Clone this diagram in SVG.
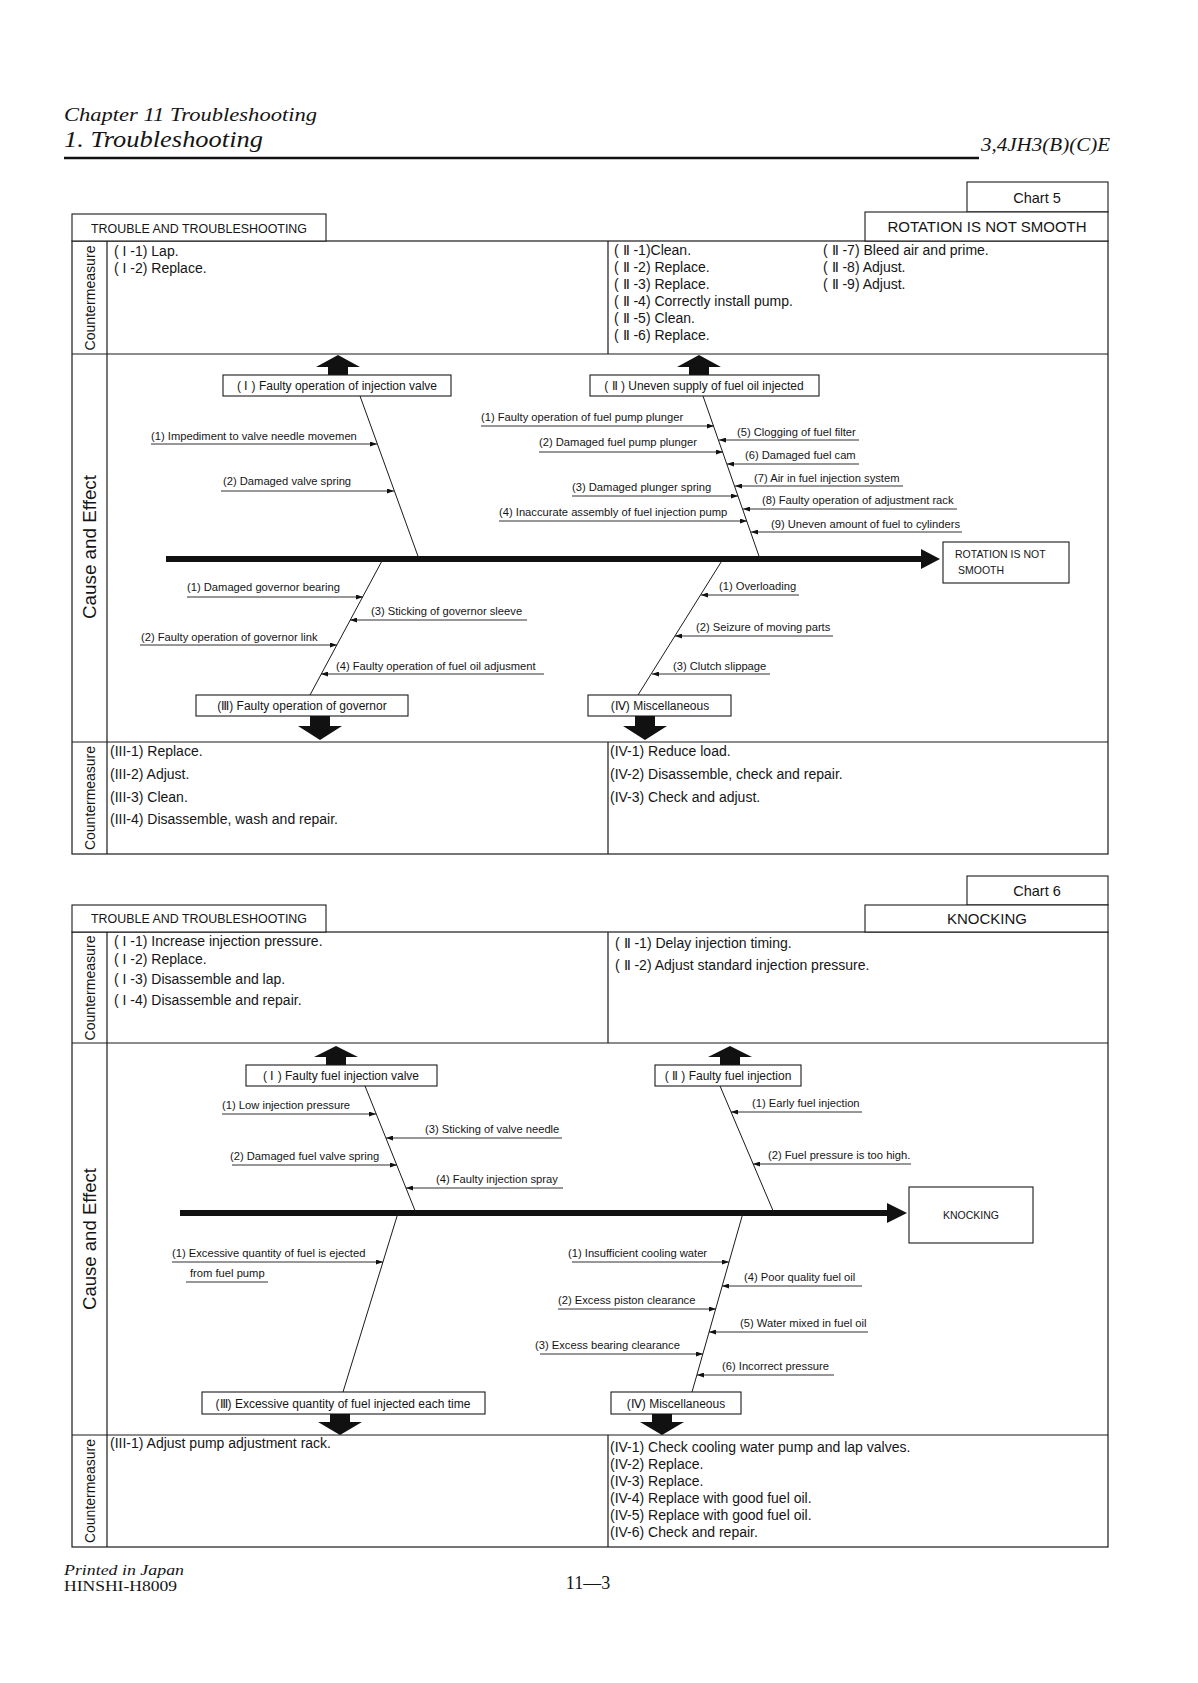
<svg xmlns="http://www.w3.org/2000/svg" width="1198" height="1683" viewBox="0 0 1198 1683">
<style>
text{font-family:"Liberation Sans",Arial,sans-serif;fill:#151515}
.serif{font-family:"Liberation Serif","Times New Roman",serif}
.fr{fill:none;stroke:#1a1a1a;stroke-width:1.2}
.bx{fill:#fff;stroke:#1a1a1a;stroke-width:1.1}
.cm{font-size:14px}
.lb{font-size:11.2px}
.bl{font-size:12px}
.hd{font-size:12.5px}
.vl{font-size:15px}
.ve{font-size:18px}
.bone{stroke:#1a1a1a;stroke-width:1;fill:none}
.sub{stroke:#1a1a1a;stroke-width:0.9;fill:none;marker-end:url(#ah)}
.ul{stroke:#1a1a1a;stroke-width:0.9;fill:none}
.spine{stroke:#111;stroke-width:6;fill:none}
.fat{fill:#111}
.m{text-anchor:middle}
</style>
<defs>
<marker id="ah" markerWidth="7" markerHeight="5" refX="7" refY="2.5" orient="auto" markerUnits="userSpaceOnUse"><path d="M0,0 L7,2.5 L0,5 Z" fill="#111"/></marker>
</defs>
<rect width="1198" height="1683" fill="#fff"/>

<g id="header">
<text class="serif" x="64" y="121" font-size="19" font-style="italic" textLength="253" lengthAdjust="spacingAndGlyphs">Chapter 11 Troubleshooting</text>
<text class="serif" x="64" y="147" font-size="23" font-style="italic" textLength="199" lengthAdjust="spacingAndGlyphs">1. Troubleshooting</text>
<line x1="64" y1="158" x2="979" y2="158" stroke="#111" stroke-width="2.5"/>
<text class="serif" x="981" y="151" font-size="18" font-style="italic" textLength="129" lengthAdjust="spacingAndGlyphs">3,4JH3(B)(C)E</text>
</g>

<!-- ================= CHART 5 ================= -->
<g id="c5-frame">
<rect class="fr" x="72" y="241" width="1036" height="613"/>
<line class="fr" x1="107" y1="241" x2="107" y2="854"/>
<line class="fr" x1="72" y1="354" x2="1108" y2="354"/>
<line class="fr" x1="72" y1="742" x2="1108" y2="742"/>
<line class="fr" x1="608" y1="241" x2="608" y2="354"/>
<line class="fr" x1="608" y1="742" x2="608" y2="854"/>
</g>
<g id="c5-chart">
<rect class="bx" x="967" y="182" width="141" height="30"/>
<text class="m" x="1037" y="203" font-size="14.5">Chart  5</text>
</g>
<g id="c5-title">
<rect class="bx" x="865" y="212" width="243" height="29"/>
<text class="m" x="987" y="232" font-size="15">ROTATION IS NOT SMOOTH</text>
</g>
<g id="c5-trouble">
<rect class="bx" x="72" y="214" width="254" height="27"/>
<text class="m hd" x="199" y="233" textLength="216" lengthAdjust="spacingAndGlyphs">TROUBLE AND TROUBLESHOOTING</text>
</g>
<g id="c5-labels">
<text class="m vl" transform="translate(90,298) rotate(-90)" y="5" textLength="105" lengthAdjust="spacingAndGlyphs">Countermeasure</text>
<text class="m ve" transform="translate(90,547) rotate(-90)" y="6" textLength="144" lengthAdjust="spacingAndGlyphs">Cause and Effect</text>
<text class="m vl" transform="translate(90,798) rotate(-90)" y="5" textLength="104" lengthAdjust="spacingAndGlyphs">Countermeasure</text>
</g>
<g id="c5-cm-top">
<text class="cm" x="114" y="256">( I -1) Lap.</text>
<text class="cm" x="114" y="273">( I -2) Replace.</text>
<text class="cm" x="614" y="255">( Ⅱ -1)Clean.</text>
<text class="cm" x="614" y="272">( Ⅱ -2) Replace.</text>
<text class="cm" x="614" y="289">( Ⅱ -3) Replace.</text>
<text class="cm" x="614" y="306">( Ⅱ -4) Correctly install pump.</text>
<text class="cm" x="614" y="323">( Ⅱ -5) Clean.</text>
<text class="cm" x="614" y="340">( Ⅱ -6) Replace.</text>
<text class="cm" x="823" y="255">( Ⅱ -7) Bleed air and prime.</text>
<text class="cm" x="823" y="272">( Ⅱ -8) Adjust.</text>
<text class="cm" x="823" y="289">( Ⅱ -9) Adjust.</text>
</g>
<g id="c5-cause1">
<path class="fat" d="M338,355 L360,367 L348,367 L348,375 L328,375 L328,367 L316,367 Z"/>
<rect class="bx" x="223" y="375" width="228" height="21"/>
<text class="m bl" x="337" y="390">( Ⅰ ) Faulty operation of injection valve</text>
</g>
<g id="c5-cause2">
<path class="fat" d="M699,355 L721,367 L709,367 L709,375 L689,375 L689,367 L677,367 Z"/>
<rect class="bx" x="590" y="375" width="229" height="21"/>
<text class="m bl" x="704" y="390">( Ⅱ ) Uneven supply of fuel oil injected</text>
</g>
<g id="c5-cause3">
<rect class="bx" x="196" y="695" width="212" height="21"/>
<text class="m bl" x="302" y="710">(Ⅲ) Faulty operation of governor</text>
<path class="fat" d="M310,716 L330,716 L330,726 L342,726 L320,740 L298,726 L310,726 Z"/>
</g>
<g id="c5-cause4">
<rect class="bx" x="588" y="695" width="143" height="21"/>
<text class="m bl" x="660" y="710">(Ⅳ) Miscellaneous</text>
<path class="fat" d="M635,716 L655,716 L655,726 L667,726 L645,740 L623,726 L635,726 Z"/>
</g>
<g id="c5-effect">
<rect class="bx" x="943" y="542" width="126" height="41"/>
<text x="955" y="558" font-size="10.5">ROTATION IS NOT</text>
<text x="958" y="574" font-size="10.5">SMOOTH</text>
</g>
<g id="c5-subcauses">
<text class="lb" x="151" y="440">(1) Impediment to valve needle movemen</text>
<text class="lb" x="223" y="485">(2) Damaged valve spring</text>
<text class="lb" x="481" y="421">(1) Faulty operation of fuel pump plunger</text>
<text class="lb" x="539" y="446">(2) Damaged fuel pump plunger</text>
<text class="lb" x="572" y="491">(3) Damaged plunger spring</text>
<text class="lb" x="499" y="516">(4) Inaccurate assembly of fuel injection pump</text>
<text class="lb" x="737" y="436">(5) Clogging of fuel filter</text>
<text class="lb" x="745" y="459">(6) Damaged fuel cam</text>
<text class="lb" x="754" y="482">(7) Air in fuel injection system</text>
<text class="lb" x="762" y="504">(8) Faulty operation of adjustment rack</text>
<text class="lb" x="771" y="528">(9) Uneven amount of fuel to cylinders</text>
<text class="lb" x="187" y="591">(1) Damaged governor bearing</text>
<text class="lb" x="371" y="615">(3) Sticking of governor sleeve</text>
<text class="lb" x="141" y="641">(2) Faulty operation of governor link</text>
<text class="lb" x="336" y="670">(4) Faulty operation of fuel oil adjusment</text>
<text class="lb" x="719" y="590">(1) Overloading</text>
<text class="lb" x="696" y="631">(2) Seizure of moving parts</text>
<text class="lb" x="673" y="670">(3) Clutch slippage</text>
</g>
<g id="c5-connectors">
<line class="spine" x1="166" y1="559" x2="923" y2="559"/>
<path class="fat" d="M921,549 L940,559 L921,569 Z"/>
<line class="bone" x1="360" y1="396" x2="419" y2="559"/>
<line class="bone" x1="703" y1="396" x2="760" y2="559"/>
<line class="bone" x1="383" y1="559" x2="310" y2="695"/>
<line class="bone" x1="723" y1="559" x2="638" y2="695"/>
<line class="sub" x1="151" y1="444" x2="377" y2="444"/>
<line class="sub" x1="221" y1="491" x2="394" y2="491"/>
<line class="sub" x1="481" y1="426" x2="714" y2="426"/>
<line class="sub" x1="539" y1="452" x2="723" y2="452"/>
<line class="sub" x1="572" y1="496" x2="738" y2="496"/>
<line class="sub" x1="499" y1="521" x2="747" y2="521"/>
<line class="sub" x1="859" y1="440" x2="719" y2="440"/>
<line class="sub" x1="859" y1="464" x2="727" y2="464"/>
<line class="sub" x1="903" y1="486" x2="735" y2="486"/>
<line class="sub" x1="957" y1="509" x2="743" y2="509"/>
<line class="sub" x1="962" y1="532" x2="751" y2="532"/>
<line class="sub" x1="187" y1="597" x2="363" y2="597"/>
<line class="sub" x1="527" y1="620" x2="350" y2="620"/>
<line class="sub" x1="140" y1="645" x2="337" y2="645"/>
<line class="sub" x1="544" y1="674" x2="321" y2="674"/>
<line class="sub" x1="799" y1="595" x2="701" y2="595"/>
<line class="sub" x1="833" y1="636" x2="675" y2="636"/>
<line class="sub" x1="770" y1="674" x2="652" y2="674"/>
</g>
<g id="c5-cm-bottom">
<text class="cm" x="110" y="756">(III-1) Replace.</text>
<text class="cm" x="110" y="779">(III-2) Adjust.</text>
<text class="cm" x="110" y="802">(III-3) Clean.</text>
<text class="cm" x="110" y="824">(III-4) Disassemble, wash and repair.</text>
<text class="cm" x="610" y="756">(IV-1) Reduce load.</text>
<text class="cm" x="610" y="779">(IV-2) Disassemble, check and repair.</text>
<text class="cm" x="610" y="802">(IV-3) Check and adjust.</text>
</g>

<!-- ================= CHART 6 ================= -->
<g id="c6-frame">
<rect class="fr" x="72" y="932" width="1036" height="615"/>
<line class="fr" x1="107" y1="932" x2="107" y2="1547"/>
<line class="fr" x1="72" y1="1043" x2="1108" y2="1043"/>
<line class="fr" x1="72" y1="1435" x2="1108" y2="1435"/>
<line class="fr" x1="608" y1="932" x2="608" y2="1043"/>
<line class="fr" x1="608" y1="1435" x2="608" y2="1547"/>
</g>
<g id="c6-chart">
<rect class="bx" x="967" y="876" width="141" height="29"/>
<text class="m" x="1037" y="896" font-size="14.5">Chart  6</text>
</g>
<g id="c6-title">
<rect class="bx" x="865" y="905" width="243" height="27"/>
<text class="m" x="987" y="924" font-size="15">KNOCKING</text>
</g>
<g id="c6-trouble">
<rect class="bx" x="72" y="905" width="254" height="27"/>
<text class="m hd" x="199" y="923" textLength="216" lengthAdjust="spacingAndGlyphs">TROUBLE AND TROUBLESHOOTING</text>
</g>
<g id="c6-labels">
<text class="m vl" transform="translate(90,988) rotate(-90)" y="5" textLength="105" lengthAdjust="spacingAndGlyphs">Countermeasure</text>
<text class="m ve" transform="translate(90,1239) rotate(-90)" y="6" textLength="142" lengthAdjust="spacingAndGlyphs">Cause and Effect</text>
<text class="m vl" transform="translate(90,1491) rotate(-90)" y="5" textLength="104" lengthAdjust="spacingAndGlyphs">Countermeasure</text>
</g>
<g id="c6-cm-top">
<text class="cm" x="114" y="946">( I -1) Increase injection pressure.</text>
<text class="cm" x="114" y="964">( I -2) Replace.</text>
<text class="cm" x="114" y="984">( I -3) Disassemble and lap.</text>
<text class="cm" x="114" y="1005">( I -4) Disassemble and repair.</text>
<text class="cm" x="615" y="948">( Ⅱ -1) Delay injection timing.</text>
<text class="cm" x="615" y="970">( Ⅱ -2) Adjust standard injection pressure.</text>
</g>
<g id="c6-cause1">
<path class="fat" d="M336,1046 L358,1057 L346,1057 L346,1065 L326,1065 L326,1057 L314,1057 Z"/>
<rect class="bx" x="246" y="1065" width="191" height="21"/>
<text class="m bl" x="341" y="1080">( Ⅰ ) Faulty fuel injection valve</text>
</g>
<g id="c6-cause2">
<path class="fat" d="M730,1046 L752,1057 L740,1057 L740,1065 L720,1065 L720,1057 L708,1057 Z"/>
<rect class="bx" x="655" y="1065" width="146" height="21"/>
<text class="m bl" x="728" y="1080">( Ⅱ ) Faulty fuel injection</text>
</g>
<g id="c6-cause3">
<rect class="bx" x="202" y="1392" width="283" height="22"/>
<text class="m bl" x="343" y="1408">(Ⅲ) Excessive quantity of fuel injected each time</text>
<path class="fat" d="M330,1414 L350,1414 L350,1422 L362,1422 L340,1435 L318,1422 L330,1422 Z"/>
</g>
<g id="c6-cause4">
<rect class="bx" x="611" y="1392" width="130" height="22"/>
<text class="m bl" x="676" y="1408">(Ⅳ) Miscellaneous</text>
<path class="fat" d="M652,1414 L672,1414 L672,1422 L684,1422 L662,1435 L640,1422 L652,1422 Z"/>
</g>
<g id="c6-effect">
<rect class="bx" x="909" y="1187" width="124" height="56"/>
<text class="m" x="971" y="1219" font-size="10.5">KNOCKING</text>
</g>
<g id="c6-subcauses">
<text class="lb" x="222" y="1109">(1) Low injection pressure</text>
<text class="lb" x="425" y="1133">(3) Sticking of valve needle</text>
<text class="lb" x="230" y="1160">(2) Damaged fuel valve spring</text>
<text class="lb" x="436" y="1183">(4) Faulty injection spray</text>
<text class="lb" x="752" y="1107">(1) Early fuel injection</text>
<text class="lb" x="768" y="1159">(2) Fuel pressure is too high.</text>
<text class="lb" x="172" y="1257">(1) Excessive quantity of fuel is ejected</text>
<text class="lb" x="190" y="1277">from fuel pump</text>
<text class="lb" x="568" y="1257">(1) Insufficient cooling water</text>
<text class="lb" x="744" y="1281">(4) Poor quality fuel oil</text>
<text class="lb" x="558" y="1304">(2) Excess piston clearance</text>
<text class="lb" x="740" y="1327">(5) Water mixed in fuel oil</text>
<text class="lb" x="535" y="1349">(3) Excess bearing clearance</text>
<text class="lb" x="722" y="1370">(6) Incorrect pressure</text>
</g>
<g id="c6-connectors">
<line class="spine" x1="180" y1="1213" x2="889" y2="1213"/>
<path class="fat" d="M887,1203 L907,1213 L887,1223 Z"/>
<line class="bone" x1="365" y1="1086" x2="416" y2="1213"/>
<line class="bone" x1="720" y1="1086" x2="774" y2="1213"/>
<line class="bone" x1="398" y1="1213" x2="343" y2="1392"/>
<line class="bone" x1="743" y1="1213" x2="692" y2="1392"/>
<line class="sub" x1="222" y1="1114" x2="376" y2="1114"/>
<line class="sub" x1="562" y1="1138" x2="386" y2="1138"/>
<line class="sub" x1="232" y1="1165" x2="397" y2="1165"/>
<line class="sub" x1="563" y1="1188" x2="406" y2="1188"/>
<line class="sub" x1="862" y1="1112" x2="731" y2="1112"/>
<line class="sub" x1="911" y1="1164" x2="753" y2="1164"/>
<line class="sub" x1="172" y1="1262" x2="383" y2="1262"/>
<line class="ul" x1="186" y1="1282" x2="268" y2="1282"/>
<line class="sub" x1="572" y1="1262" x2="729" y2="1262"/>
<line class="sub" x1="862" y1="1286" x2="722" y2="1286"/>
<line class="sub" x1="558" y1="1309" x2="716" y2="1309"/>
<line class="sub" x1="868" y1="1332" x2="709" y2="1332"/>
<line class="sub" x1="540" y1="1354" x2="703" y2="1354"/>
<line class="sub" x1="834" y1="1375" x2="697" y2="1375"/>
</g>
<g id="c6-cm-bottom">
<text class="cm" x="110" y="1448">(III-1)  Adjust pump adjustment rack.</text>
<text class="cm" x="610" y="1452">(IV-1) Check cooling water pump and lap valves.</text>
<text class="cm" x="610" y="1469">(IV-2) Replace.</text>
<text class="cm" x="610" y="1486">(IV-3) Replace.</text>
<text class="cm" x="610" y="1503">(IV-4) Replace with good fuel oil.</text>
<text class="cm" x="610" y="1520">(IV-5) Replace with good fuel oil.</text>
<text class="cm" x="610" y="1537">(IV-6) Check and repair.</text>
</g>

<g id="footer">
<text class="serif" x="64" y="1575" font-size="15" font-style="italic" textLength="120" lengthAdjust="spacingAndGlyphs">Printed in Japan</text>
<text class="serif" x="64" y="1591" font-size="14" textLength="113" lengthAdjust="spacingAndGlyphs">HINSHI-H8009</text>
<text class="serif m" x="588" y="1589" font-size="18">11—3</text>
</g>
</svg>
